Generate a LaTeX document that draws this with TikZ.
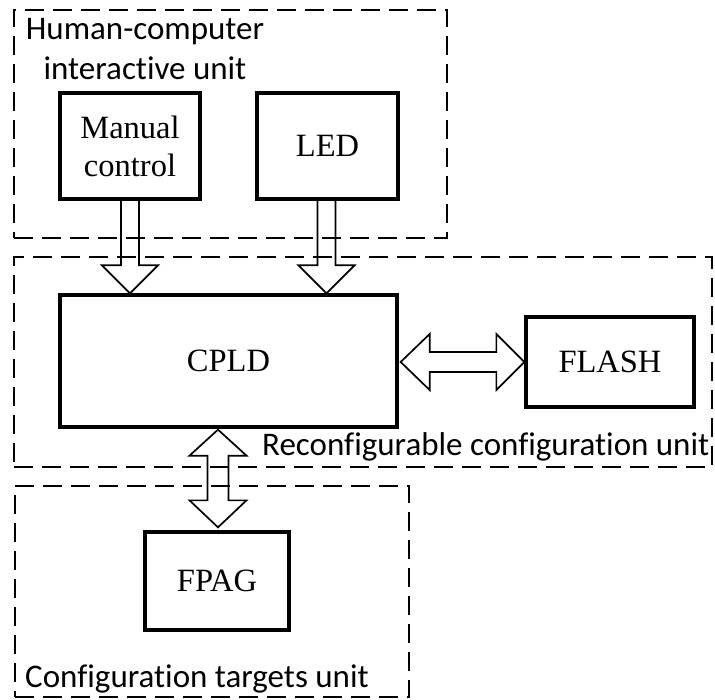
\documentclass[tikz,border=0pt]{standalone}
\usepackage{fontspec}
\setmainfont{Liberation Serif}
\newfontfamily\lblfont[Ligatures=NoCommon]{Carlito}
\usetikzlibrary{calc}
\begin{document}
\begin{tikzpicture}[x=1pt,y=-1pt,
  unitbox/.style={draw,dash pattern=on 19pt off 9pt,line width=2.2pt,inner sep=0pt},
  blk/.style={draw,line width=3.3pt,inner sep=0pt,align=center,font=\fontsize{32.5}{38}\selectfont},
  bigarrow/.style={draw,line width=1.7pt,line join=miter},
  lbl/.style={inner sep=0pt,font=\lblfont\fontsize{33}{40}\selectfont}]
\useasboundingbox (0,0) rectangle (715,700);
% unit boxes
\node[unitbox,minimum width=433pt,minimum height=228pt] (hci) at (230.5,124) {};
\node[unitbox,minimum width=698pt,minimum height=210pt] (rcu) at (363,362) {};
\node[unitbox,minimum width=394pt,minimum height=211pt] (ctu) at (212,591.5) {};
% unit labels
\node[lbl,align=center,anchor=north] (hcil) at (145,18) {Human-computer\\interactive unit};
\node[lbl,anchor=base west] (rcul) at (262,456) {Reconfigurable configuration unit};
\node[lbl,anchor=base west] (ctul) at (25,687) {Configuration targets unit};
% blocks
\node[blk,minimum width=140pt,minimum height=106pt] (mc) at (130,146) {Manual\\control};
\node[blk,minimum width=141pt,minimum height=106pt] (led) at (327.5,146) {LED};
\node[blk,minimum width=337pt,minimum height=132pt] (cpld) at (228.5,361) {CPLD};
\node[blk,minimum width=168pt,minimum height=90pt] (flash) at (610,362) {FLASH};
\node[blk,minimum width=144pt,minimum height=98pt] (fpag) at (217,581) {FPAG};
% single down arrows
\coordinate (mctip) at (mc.south |- cpld.north);
\draw[bigarrow] ($(mc.south)+(-9,0)$) -- ($(mctip)+(-9,-28)$) -- ($(mctip)+(-28,-28)$)
  -- (mctip) -- ($(mctip)+(28,-28)$) -- ($(mctip)+(9,-28)$) -- ($(mc.south)+(9,0)$);
\coordinate (ledtip) at ($(led.south |- cpld.north)+(-1,0)$);
\coordinate (ledtop) at ($(led.south)+(-1,0)$);
\draw[bigarrow] ($(ledtop)+(-9,0)$) -- ($(ledtip)+(-9,-28)$) -- ($(ledtip)+(-28,-28)$)
  -- (ledtip) -- ($(ledtip)+(28,-28)$) -- ($(ledtip)+(9,-28)$) -- ($(ledtop)+(9,0)$);
% horizontal double arrow CPLD <-> FLASH
\coordinate (hl) at ($(cpld.east)+(2,1)$);
\coordinate (hr) at ($(flash.west)+(0,0)$);
\draw[bigarrow] (hl) -- ($(hl)+(29,-28)$) -- ($(hl)+(29,-10)$) -- ($(hr)+(-28,-10)$)
  -- ($(hr)+(-28,-28)$) -- (hr) -- ($(hr)+(-28,28)$) -- ($(hr)+(-28,10)$)
  -- ($(hl)+(29,10)$) -- ($(hl)+(29,28)$) -- cycle;
% vertical double arrow CPLD <-> FPAG
\coordinate (vt) at ($(fpag.north |- cpld.south)+(1,1)$);
\coordinate (vb) at ($(fpag.north)+(1,-3)$);
\draw[bigarrow] (vt) -- ($(vt)+(28.5,26)$) -- ($(vt)+(10.5,26)$) -- ($(vb)+(10.5,-27)$)
  -- ($(vb)+(28.5,-27)$) -- (vb) -- ($(vb)+(-28.5,-27)$) -- ($(vb)+(-10.5,-27)$)
  -- ($(vt)+(-10.5,26)$) -- ($(vt)+(-28.5,26)$) -- cycle;
\end{tikzpicture}
\end{document}
